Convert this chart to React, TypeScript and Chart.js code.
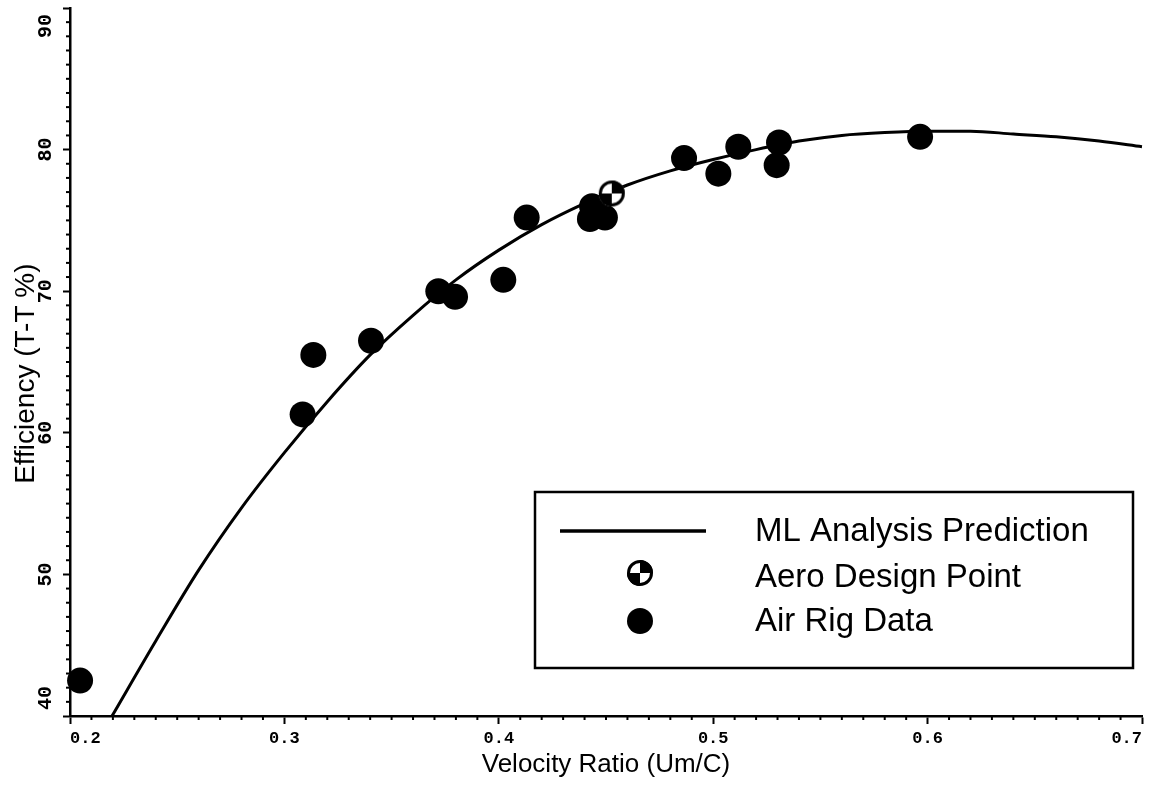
import React, { useEffect, useRef } from "react";
import { Chart, registerables } from "chart.js";

Chart.register(...registerables);

// ---- data ----
const curveX = [0.2196, 0.24, 0.26, 0.28, 0.3, 0.32, 0.34, 0.36, 0.38, 0.4, 0.42, 0.44, 0.46, 0.48, 0.5, 0.52, 0.54, 0.56, 0.58, 0.6, 0.62, 0.64, 0.66, 0.68, 0.7];
const curveY = [40, 45.3, 50.3, 54.7, 58.6, 62.2, 65.5, 68.3, 70.8, 72.9, 74.7, 76.2, 77.5, 78.5, 79.3, 80.0, 80.6, 81.0, 81.2, 81.3, 81.3, 81.1, 80.9, 80.6, 80.2];

const airX = [0.2047, 0.3085, 0.3135, 0.3404, 0.3718, 0.3796, 0.4021, 0.413, 0.4435, 0.4425, 0.4495, 0.4864, 0.5024, 0.5117, 0.5307, 0.5296, 0.5965];
const airY = [42.5, 61.3, 65.5, 66.5, 70.0, 69.6, 70.8, 75.2, 76.0, 75.1, 75.2, 79.4, 78.3, 80.2, 80.5, 78.9, 80.9];

const designX = [0.4527];
const designY = [76.9];

const xTicks = [0.2, 0.3, 0.4, 0.5, 0.6, 0.7];
const yTicks = [40, 50, 60, 70, 80, 90];

const seriesLabels = ["ML Analysis Prediction", "Aero Design Point", "Air Rig Data"];
const xTitle = "Velocity Ratio (Um/C)";
const yTitle = "Efficiency (T-T %)";

function makeDesignSymbol(r: number): HTMLCanvasElement {
  const s = Math.ceil(r * 2 + 2);
  const c = document.createElement("canvas");
  c.width = s;
  c.height = s;
  const ctx = c.getContext("2d")!;
  const cx = s / 2;
  ctx.fillStyle = "#fff";
  ctx.beginPath();
  ctx.arc(cx, cx, r, 0, Math.PI * 2);
  ctx.fill();
  ctx.fillStyle = "#000";
  ctx.beginPath();
  ctx.moveTo(cx, cx);
  ctx.arc(cx, cx, r, -Math.PI / 2, 0);
  ctx.closePath();
  ctx.fill();
  ctx.beginPath();
  ctx.moveTo(cx, cx);
  ctx.arc(cx, cx, r, Math.PI / 2, Math.PI);
  ctx.closePath();
  ctx.fill();
  ctx.strokeStyle = "#000";
  ctx.lineWidth = 3;
  ctx.beginPath();
  ctx.arc(cx, cx, r - 1.5, 0, Math.PI * 2);
  ctx.stroke();
  return c;
}

const minorTicksPlugin = {
  id: "minorTicks",
  afterDraw(chart: any) {
    const ctx = chart.ctx;
    const xs = chart.scales.x;
    const ys = chart.scales.y;
    const { bottom, left } = chart.chartArea;
    ctx.save();
    ctx.strokeStyle = "#000";
    ctx.lineWidth = 2;
    for (let i = 0; i <= 50; i++) {
      if (i % 10 === 0) continue;
      const px = xs.getPixelForValue(0.2 + i / 100);
      ctx.beginPath();
      ctx.moveTo(px, bottom);
      ctx.lineTo(px, bottom + 4);
      ctx.stroke();
    }
    for (let v = 40; v <= 90; v++) {
      if (v % 10 === 0) continue;
      const py = ys.getPixelForValue(v);
      ctx.beginPath();
      ctx.moveTo(left, py);
      ctx.lineTo(left - 4, py);
      ctx.stroke();
    }
    ctx.restore();
  },
};

const boxLegendPlugin = {
  id: "boxLegend",
  afterDraw(chart: any) {
    const ctx = chart.ctx;
    const bx = 535, by = 492, bw = 598, bh = 176;
    ctx.save();
    ctx.fillStyle = "#fff";
    ctx.fillRect(bx, by, bw, bh);
    ctx.strokeStyle = "#000";
    ctx.lineWidth = 2.5;
    ctx.strokeRect(bx, by, bw, bh);

    const rows = [531, 577, 621];
    const textX = 755;
    ctx.lineWidth = 3.5;
    ctx.beginPath();
    ctx.moveTo(560, rows[0]);
    ctx.lineTo(706, rows[0]);
    ctx.stroke();
    const sym = chart.data.datasets[0].pointStyle as HTMLCanvasElement;
    ctx.drawImage(sym, 640 - sym.width / 2, rows[1] - 4 - sym.height / 2);
    ctx.fillStyle = "#000";
    ctx.beginPath();
    ctx.arc(640, rows[2], 13, 0, Math.PI * 2);
    ctx.fill();

    ctx.font = "33px 'Liberation Sans', Arial, sans-serif";
    ctx.textBaseline = "middle";
    ctx.textAlign = "left";
    ctx.fillStyle = "#000";
    seriesLabels.forEach((t, i) => ctx.fillText(t, textX, rows[i] + 1));
    ctx.restore();
  },
};

export default function App() {
  const ref = useRef<HTMLCanvasElement | null>(null);

  useEffect(() => {
    if (!ref.current) return;
    const symbol = makeDesignSymbol(13);
    const chart = new Chart(ref.current, {
      type: "scatter",
      data: {
        datasets: [
          {
            label: seriesLabels[1],
            data: designX.map((x, i) => ({ x, y: designY[i] })),
            pointStyle: symbol as any,
            pointRadius: 13,
            clip: false as any,
          },
          {
            label: seriesLabels[2],
            data: airX.map((x, i) => ({ x, y: airY[i] })),
            pointRadius: 13,
            backgroundColor: "#000",
            borderColor: "#000",
            borderWidth: 0,
            clip: false as any,
          },
          {
            label: seriesLabels[0],
            data: curveX.map((x, i) => ({ x, y: curveY[i] })),
            showLine: true,
            borderColor: "#000",
            borderWidth: 3,
            pointRadius: 0,
            cubicInterpolationMode: "monotone",
            clip: false as any,
          } as any,
        ],
      },
      options: {
        animation: false,
        responsive: false,
        devicePixelRatio: 1,
        events: [],
        layout: { autoPadding: false, padding: { top: 8, right: 7, left: 0, bottom: 0 } },
        plugins: { legend: { display: false }, tooltip: { enabled: false } },
        scales: {
          x: {
            type: "linear",
            min: 0.2,
            max: 0.7,
            afterBuildTicks: (scale: any) => {
              scale.ticks = xTicks.map((v) => ({ value: v }));
            },
            afterFit: (scale: any) => {
              scale.height = 74;
              scale.paddingLeft = 0;
              scale.paddingRight = 0;
            },
            grid: { drawOnChartArea: false, drawTicks: true, tickLength: 8, tickWidth: 2, tickColor: "#000" },
            border: { display: true, color: "#000", width: 2.5 },
            ticks: {
              align: "inner",
              autoSkip: false,
              maxRotation: 0,
              minRotation: 0,
              padding: 5,
              color: "#000",
              font: { family: "'Liberation Mono', monospace", weight: "bold", size: 17 },
              callback: (v: any) => Number(v).toFixed(1),
            },
            title: {
              display: true,
              text: xTitle,
              color: "#000",
              font: { family: "'Liberation Sans', Arial, sans-serif", size: 26 },
              padding: { top: 0, bottom: 10 },
            },
          },
          y: {
            type: "linear",
            min: 40,
            max: 90,
            afterBuildTicks: (scale: any) => {
              scale.ticks = yTicks.map((v) => ({ value: v }));
            },
            afterFit: (scale: any) => {
              scale.width = 70;
              scale.paddingTop = 0;
              scale.paddingBottom = 0;
            },
            grid: { drawOnChartArea: false, drawTicks: true, tickLength: 7, tickWidth: 2, tickColor: "#000" },
            border: { display: true, color: "#000", width: 2.5 },
            ticks: {
              autoSkip: false,
              minRotation: 90,
              maxRotation: 90,
              crossAlign: "center",
              padding: -13,
              color: "#000",
              font: { family: "'Liberation Mono', monospace", weight: "bold", size: 20 },
              callback: (v: any) => (v === 90 ? "90   " : v === 40 ? "   40" : String(v)),
            },
            title: {
              display: true,
              text: yTitle + "   ",
              color: "#000",
              font: { family: "'Liberation Sans', Arial, sans-serif", size: 28 },
              padding: { top: 9, bottom: 0 },
            },
          },
        },
      } as any,
      plugins: [minorTicksPlugin, boxLegendPlugin],
    });
    return () => chart.destroy();
  }, []);

  return (
    <div style={{ position: "fixed", left: 0, top: 0, width: 1149, height: 790, background: "#fff" }}>
      <canvas ref={ref} width={1149} height={790} style={{ width: 1149, height: 790, display: "block" }} />
    </div>
  );
}
